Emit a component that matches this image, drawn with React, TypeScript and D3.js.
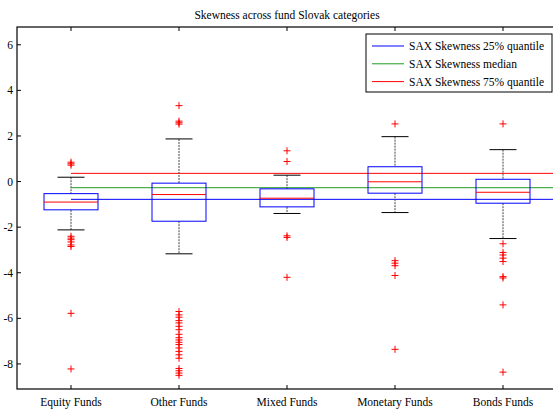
import React from "react";
import * as d3 from "d3";

const categories = ["Equity Funds", "Other Funds", "Mixed Funds", "Monetary Funds", "Bonds Funds"];
// [lowerWhisker, q1, median, q3, upperWhisker]
const boxStats = [
  [-2.12, -1.24, -0.9, -0.53, 0.19],
  [-3.17, -1.74, -0.57, -0.07, 1.87],
  [-1.4, -1.11, -0.73, -0.32, 0.28],
  [-1.36, -0.51, -0.01, 0.65, 1.97],
  [-2.5, -0.95, -0.47, 0.1, 1.4],
];
const outliers = [
  [0.85, 0.78, 0.72, -2.4, -2.48, -2.55, -2.65, -2.78, -2.85, -5.78, -8.22],
  [3.33, 2.65, 2.58, 2.52, -5.7, -5.85, -5.95, -6.1, -6.2, -6.35, -6.5, -6.7, -6.85, -6.95, -7.05, -7.15, -7.3, -7.45, -7.6, -7.75, -8.2, -8.3, -8.4, -8.5],
  [1.35, 0.88, -2.38, -2.45, -4.2],
  [2.53, -3.47, -3.58, -3.69, -4.12, -7.36],
  [2.53, -2.73, -3.11, -3.22, -3.36, -3.51, -4.17, -4.23, -5.41, -8.36],
];
const refLines = [
  { label: "SAX Skewness 25% quantile", value: -0.78, color: "#0000ff" },
  { label: "SAX Skewness median", value: -0.27, color: "#1f9a1f" },
  { label: "SAX Skewness 75% quantile", value: 0.36, color: "#ff0000" },
];
const yTicks = [6, 4, 2, 0, -2, -4, -6, -8];
const title = "Skewness across fund Slovak categories";

export default function App() {
  const left = 17, right = 557, top = 27, bottom = 389;
  const x = d3.scaleLinear().domain([0.5, 5.5]).range([left, right]);
  const y = d3.scaleLinear().domain([-9.1, 6.78]).range([bottom, top]);
  const font = "'Liberation Serif', 'Times New Roman', serif";
  const bw = 0.25; // half box width in units
  const cw = 0.125;
  return (
    <svg width={553} height={413} style={{ position: "absolute", left: 0, top: 0, background: "#fff" }}>
      <rect x={0} y={0} width={553} height={413} fill="#fff" />
      <text x={(left + right) / 2} y={19} textAnchor="middle" fontFamily={font} fontSize={11.5}>{title}</text>
      {/* reference lines */}
      {refLines.map((r, i) => (
        <line key={i} x1={x(1)} x2={right} y1={y(r.value)} y2={y(r.value)} stroke={r.color} strokeWidth={1} />
      ))}
      {/* boxes */}
      {boxStats.map((s, i) => {
        const c = x(i + 1);
        const [lw, q1, med, q3, uw] = s;
        return (
          <g key={i}>
            <line x1={c} x2={c} y1={y(uw)} y2={y(q3)} stroke="#444" strokeDasharray="2,1" />
            <line x1={c} x2={c} y1={y(q1)} y2={y(lw)} stroke="#444" strokeDasharray="2,1" />
            <line x1={x(i + 1 - cw)} x2={x(i + 1 + cw)} y1={y(uw)} y2={y(uw)} stroke="#000" />
            <line x1={x(i + 1 - cw)} x2={x(i + 1 + cw)} y1={y(lw)} y2={y(lw)} stroke="#000" />
            <rect x={x(i + 1 - bw)} y={y(q3)} width={x(i + 1 + bw) - x(i + 1 - bw)} height={y(q1) - y(q3)} fill="none" stroke="#0000ff" />
            <line x1={x(i + 1 - bw)} x2={x(i + 1 + bw)} y1={y(med)} y2={y(med)} stroke="#ff0000" />
            {outliers[i].map((v, j) => (
              <g key={j} stroke="#ff0000" strokeWidth={1}>
                <line x1={c - 3.5} x2={c + 3.5} y1={y(v)} y2={y(v)} />
                <line x1={c} x2={c} y1={y(v) - 3.5} y2={y(v) + 3.5} />
              </g>
            ))}
          </g>
        );
      })}
      {/* axes frame */}
      <rect x={left} y={top} width={right - left} height={bottom - top} fill="none" stroke="#000" strokeWidth={1.2} />
      {yTicks.map((t) => (
        <g key={t}>
          <line x1={left} x2={left + 4} y1={y(t)} y2={y(t)} stroke="#000" />
          <line x1={right - 4} x2={right} y1={y(t)} y2={y(t)} stroke="#000" />
          <text x={13} y={y(t)} dy="0.35em" textAnchor="end" fontFamily={font} fontSize={11.5}>{t}</text>
        </g>
      ))}
      {categories.map((c, i) => (
        <g key={c}>
          <line x1={x(i + 1)} x2={x(i + 1)} y1={top} y2={top + 4} stroke="#000" />
          <line x1={x(i + 1)} x2={x(i + 1)} y1={bottom} y2={bottom - 4} stroke="#000" />
          <text x={x(i + 1)} y={406} textAnchor="middle" fontFamily={font} fontSize={11.5}>{c}</text>
        </g>
      ))}
      {/* legend */}
      <g>
        <rect x={366} y={34} width={186} height={58} fill="#fff" stroke="#000" strokeWidth={1} />
        {refLines.map((r, i) => (
          <g key={i}>
            <line x1={372} x2={404} y1={46 + i * 17.8} y2={46 + i * 17.8} stroke={r.color} strokeWidth={1} />
            <text x={409} y={46 + i * 17.8} dy="0.35em" fontFamily={font} fontSize={11.5}>{r.label}</text>
          </g>
        ))}
      </g>
    </svg>
  );
}
